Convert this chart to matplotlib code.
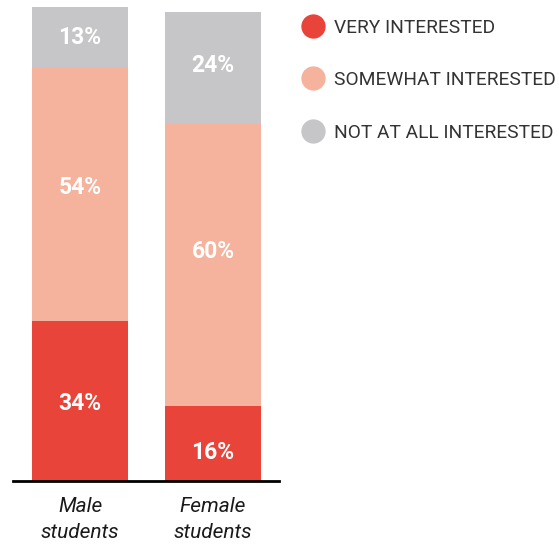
import matplotlib
matplotlib.use("Agg")
import matplotlib.pyplot as plt
from matplotlib.lines import Line2D
import numpy as np

categories = ["Male\nstudents", "Female\nstudents"]
series_names = ["VERY INTERESTED", "SOMEWHAT INTERESTED", "NOT AT ALL INTERESTED"]
very = [34, 16]
somewhat = [54, 60]
not_at_all = [13, 24]
colors = ["#E9443A", "#F5B39D", "#C6C6C8"]
# vertical nudge of each value label, in pixels (positive = down)
label_nudge = [[1.0, 8.0], [-8.5, -14.5], [-1.5, -3.7]]

plt.rcParams['font.family'] = ['Roboto', 'DejaVu Sans']

W, H = 559, 544
fig = plt.figure(figsize=(W / 100, H / 100), dpi=100)
base_y = 480.7
scale = 4.69
ymax = 101
ax = fig.add_axes([13 / W, (H - base_y) / H, 266 / W, ymax * scale / H])

PT = 0.72  # points per pixel at dpi 100
cap_half = 8.0  # half of cap height in pixels for value labels

x = np.arange(len(categories))
bw = 96 / 133
bottom = np.zeros(len(categories))
for vals, col, nudges in zip([very, somewhat, not_at_all], colors, label_nudge):
    vals = np.array(vals, dtype=float)
    ax.bar(x, vals, bottom=bottom, width=bw, color=col, linewidth=0)
    for xi, b, v, nd in zip(x, bottom, vals, nudges):
        ax.annotate(f"{int(v)}%", xy=(xi, b + v / 2),
                    xytext=(0, -(nd + cap_half) * PT), textcoords="offset points",
                    ha="center", va="baseline",
                    color="white", fontsize=16.5, fontweight="bold")
    bottom += vals

ax.set_xlim(-0.504, 1.496)
ax.set_ylim(0, ymax)
for s in ["top", "left", "right"]:
    ax.spines[s].set_visible(False)
ax.spines["bottom"].set_linewidth(2)
ax.spines["bottom"].set_color("black")
ax.set_yticks([])
ax.set_xticks([])

line_offsets = [31.6, 57.0]
for xi, cat in zip(x, categories):
    for line, off in zip(cat.split("\n"), line_offsets):
        ax.annotate(line, xy=(xi, 0), xytext=(0, -off * PT),
                    textcoords="offset points", ha="center", va="baseline",
                    fontsize=15, style="italic", color="#1a1a1a",
                    annotation_clip=False)

leg_y = [26, 78, 131]
for name, col, yy in zip(series_names, colors, leg_y):
    fy = 1 - yy / H
    fig.add_artist(Line2D([312.7 / W], [fy], marker="o", markersize=17.5,
                          color=col, markeredgewidth=0, transform=fig.transFigure))
    fig.text(334 / W, 1 - (yy + 7.0) / H, name, ha="left", va="baseline",
             fontsize=13.8, color="#333333")

fig.savefig("out.png", dpi=100)
